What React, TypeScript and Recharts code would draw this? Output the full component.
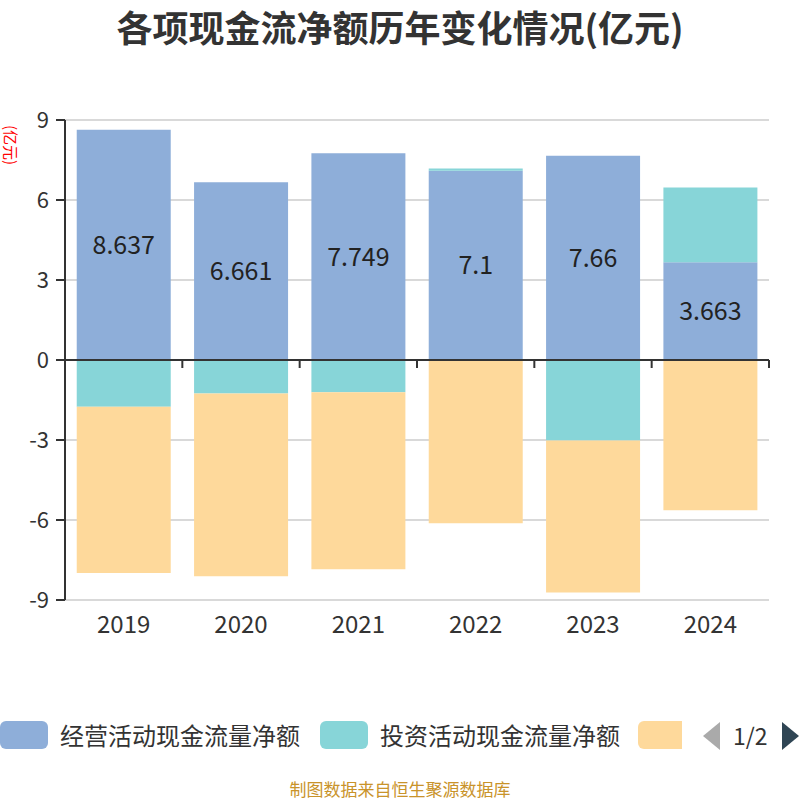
import React from 'react'
import { BarChart, Bar, XAxis, YAxis, CartesianGrid, ReferenceLine, LabelList } from 'recharts'

const years = ['2019', '2020', '2021', '2022', '2023', '2024']
const operating = [8.637, 6.661, 7.749, 7.1, 7.66, 3.663]
const investing = [-1.75, -1.26, -1.21, 0.08, -3.02, 2.81]
const financing = [-6.24, -6.85, -6.64, -6.12, -5.7, -5.63]
const yTicks = [-9, -6, -3, 0, 3, 6, 9]
const seriesNames = ['经营活动现金流量净额', '投资活动现金流量净额', '筹资活动现金流量净额']
const colors = ['#8eaed9', '#87d5d8', '#fed99b']

const data = years.map((y, i) => ({
  year: y,
  operating: operating[i],
  investing: investing[i],
  financing: financing[i],
}))

const FONT = "'Noto Sans CJK SC', 'Noto Sans', sans-serif"

// zero line with ticks at the category borders
function ZeroLine(props: any) {
  const { x1, y1, x2 } = props
  const step = (x2 - x1) / years.length
  const ticks = years.map((_, i) => x1 + step * (i + 1))
  return (
    <g>
      <line x1={x1} y1={y1} x2={x2} y2={y1} stroke="#333" strokeWidth={2} />
      {ticks.map((x) => (
        <line key={x} x1={x} y1={y1} x2={x} y2={y1 + 8} stroke="#333" strokeWidth={2} />
      ))}
    </g>
  )
}

function Legend() {
  return (
    <div style={{ position: 'absolute', top: 721, left: 0, width: 800, height: 30, fontFamily: FONT }}>
      {[0, 1].map((i) => (
        <div key={i} style={{ position: 'absolute', left: i * 320, top: 0, display: 'flex', alignItems: 'center' }}>
          <div style={{ width: 48, height: 28, borderRadius: 6, background: colors[i] }} />
          <span style={{ marginLeft: 12, fontSize: 24, color: '#333', lineHeight: '28px' }}>{seriesNames[i]}</span>
        </div>
      ))}
      <div style={{ position: 'absolute', left: 638, top: 0, width: 44, height: 28, borderRadius: '6px 0 0 6px', background: colors[2] }} />
      <svg style={{ position: 'absolute', left: 700, top: 0 }} width={100} height={30}>
        <polygon points="20,1 20,29 3,15" fill="#aaa" />
        <polygon points="82,1 82,29 99,15" fill="#2f4554" />
      </svg>
      <span style={{ position: 'absolute', left: 733, top: 0, fontSize: 23, color: '#333', lineHeight: '28px' }}>1/2</span>
    </div>
  )
}

export default function App() {
  return (
    <div style={{ position: 'absolute', top: 0, left: 0, width: 800, height: 800, background: '#fff', overflow: 'hidden' }}>
      <div style={{ position: 'absolute', top: 0, left: 0, width: 800, textAlign: 'center', fontFamily: FONT, fontWeight: 'bold', fontSize: 36, lineHeight: '52px', color: '#333' }}>
        各项现金流净额历年变化情况(亿元)
      </div>
      <div style={{ position: 'absolute', left: -17, top: 136, width: 56, textAlign: 'center', transform: 'rotate(90deg)', fontFamily: FONT, fontSize: 15, color: 'red', lineHeight: '18px' }}>
        (亿元)
      </div>
      <div style={{ position: 'absolute', top: 0, left: 0 }}>
        <BarChart width={800} height={800} data={data} stackOffset="sign" barCategoryGap="10%" margin={{ top: 120, right: 31, bottom: 160, left: 0 }}>
          <CartesianGrid vertical={false} stroke="#ccc" strokeWidth={1.5} />
          <XAxis dataKey="year" axisLine={false} tickLine={false} height={40} tickMargin={10} tick={{ fontSize: 24, fill: '#333', fontFamily: FONT }} />
          <YAxis
            domain={[-9, 9]}
            ticks={yTicks}
            width={65}
            axisLine={{ stroke: '#333', strokeWidth: 2 }}
            tickLine={{ stroke: '#333', strokeWidth: 2 }}
            tickSize={9}
            tickMargin={7}
            tick={{ fontSize: 22, fill: '#333', fontFamily: FONT }}
          />
          <Bar dataKey="operating" stackId="a" fill={colors[0]} isAnimationActive={false}>
            <LabelList dataKey="operating" position="center" fill="#222" fontSize={25} fontFamily={FONT} />
          </Bar>
          <Bar dataKey="investing" stackId="a" fill={colors[1]} isAnimationActive={false} />
          <Bar dataKey="financing" stackId="a" fill={colors[2]} isAnimationActive={false} />
          <ReferenceLine y={0} shape={ZeroLine} />
        </BarChart>
      </div>
      <Legend />
      <div style={{ position: 'absolute', top: 779, left: 0, width: 800, textAlign: 'center', fontFamily: FONT, fontSize: 17, lineHeight: '20px', color: '#c9932a' }}>
        制图数据来自恒生聚源数据库
      </div>
    </div>
  )
}
